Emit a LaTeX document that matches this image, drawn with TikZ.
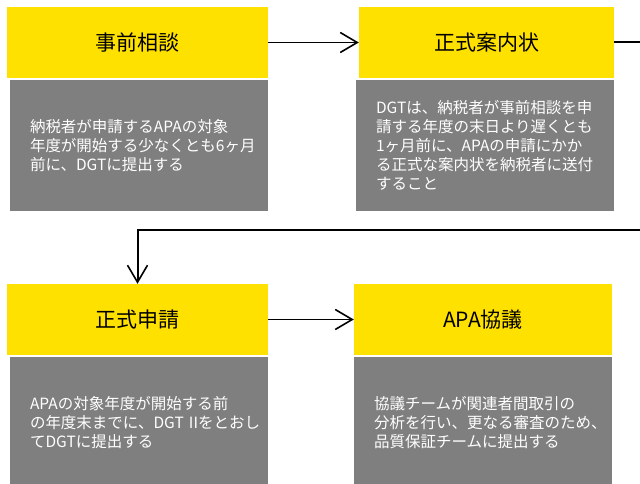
\documentclass[tikz,border=0pt]{standalone}
\usepackage{fontspec}
\setmainfont{Noto Sans CJK JP}
\usetikzlibrary{arrows.meta}
\definecolor{hdyellow}{HTML}{FFE100}
\definecolor{bodygray}{HTML}{7F7F7F}
\tikzset{
  hdbox/.style={rectangle, fill=hdyellow, minimum height=71pt, inner sep=0pt,
    font=\fontsize{21pt}{25pt}\selectfont, text=black},
  bodybox/.style={rectangle, fill=bodygray, minimum height=131pt, minimum width=258pt,
    text width=218pt, inner xsep=20pt, inner ysep=0pt, align=left,
    font=\fontsize{15.5pt}{19pt}\selectfont, text=white},
  conn/.style={draw=black, line width=1.6pt,
    -{Straight Barb[length=17pt,width=20pt,line width=1.6pt]}}
}
\begin{document}
\begin{tikzpicture}[x=1pt,y=-1pt]
\useasboundingbox (0,0) rectangle (640,484);
\clip (0,0) rectangle (640,484);
\node[hdbox, minimum width=261pt] (y1) at (137.5,42.5) {事前相談};
\node[bodybox] (g1) at (139,145.5) {納税者が申請するAPAの対象\\年度が開始する少なくとも6ヶ月\\前に、DGTに提出する};
\node[hdbox, minimum width=255pt] (y2) at (486.5,42.5) {正式案内状};
\node[bodybox] (g2) at (485,145.5) {DGTは、納税者が事前相談を申\\請する年度の末日より遅くとも\\1ヶ月前に、APAの申請にかか\\る正式な案内状を納税者に送付\\すること};
\node[hdbox, minimum width=261pt] (y3) at (137.5,319.5) {正式申請};
\node[bodybox] (g3) at (139,422.5) {APAの対象年度が開始する前\\の年度末までに、DGT~IIをとおし\\てDGTに提出する};
\node[hdbox, minimum width=258pt] (y4) at (483,319.5) {APA協議};
\node[bodybox] (g4) at (483,422.5) {協議チームが関連者間取引の\\分析を行い、更なる審査のため、\\品質保証チームに提出する};
\coordinate (rt) at (670,0);
\coordinate (hz) at (0,230);
\draw[conn] (y1.east) -- (y2.west);
\draw[conn, line width=2pt] (y2.east) -| (rt |- hz) -| (y3.north);
\draw[conn] (y3.east) -- (y4.west);
\end{tikzpicture}
\end{document}
